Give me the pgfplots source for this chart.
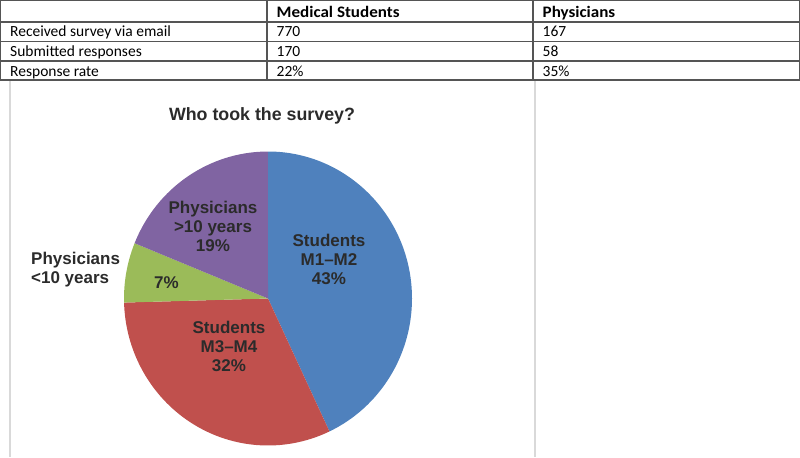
\documentclass[border=0pt]{standalone}
\usepackage{pgfplots}
\pgfplotsset{compat=1.18}
\usepackage{fontspec}
\setmainfont{Liberation Sans}
\newfontfamily\tabfont{Carlito}
\definecolor{pblue}{HTML}{4F81BD}
\definecolor{pred}{HTML}{C0504D}
\definecolor{pgreen}{HTML}{9BBB59}
\definecolor{ppurple}{HTML}{8064A2}
\definecolor{ptext}{HTML}{2B2B2B}
\definecolor{tline}{HTML}{555555}
\definecolor{lgrey}{HTML}{D9D9D9}
\begin{document}
\begin{tikzpicture}
% pie data: counts of respondents
\def\vA{98}\def\vB{72}\def\vC{15}\def\vD{43}
\pgfmathsetmacro\tot{\vA+\vB+\vC+\vD}
\pgfmathsetmacro\aA{90}
\pgfmathsetmacro\aB{\aA-\vA/\tot*360}
\pgfmathsetmacro\aC{\aB-\vB/\tot*360}
\pgfmathsetmacro\aD{\aC-\vC/\tot*360}
\pgfmathsetmacro\aE{\aD-\vD/\tot*360}
\begin{axis}[width=800pt,height=457pt,scale only axis,
  xmin=0,xmax=800,ymin=0,ymax=457,y dir=reverse,hide axis,clip=false]
% light grey cell borders below the table
\draw[lgrey,line width=1.5pt] (10,80) -- (10,457);
\draw[lgrey,line width=1.5pt] (535,80) -- (535,457);
% table
\draw[tline,line width=1.4pt] (0.7,0.7) rectangle (799.3,80);
\draw[tline,line width=1.2pt] (0.7,22) -- (799.3,22);
\draw[tline,line width=1.2pt] (0.7,41.5) -- (799.3,41.5);
\draw[tline,line width=1.2pt] (0.7,61) -- (799.3,61);
\draw[tline,line width=1.2pt] (267,0.7) -- (267,80);
\draw[tline,line width=1.2pt] (533,0.7) -- (533,80);
\begin{scope}[every node/.style={anchor=base west,inner sep=0pt,text=black,font=\tabfont\fontsize{15.5}{18}\selectfont}]
\node[xscale=1.065,font=\tabfont\bfseries\fontsize{16}{18}\selectfont] at (276.5,17) {Medical Students};
\node[xscale=1.065,font=\tabfont\bfseries\fontsize{16}{18}\selectfont] at (542.5,17) {Physicians};
\node at (10,36.8) {Received survey via email};
\node at (276.5,36.8) {770};
\node at (542.5,36.8) {167};
\node at (10,56.5) {Submitted responses};
\node at (276.5,56.5) {170};
\node at (542.5,56.5) {58};
\node at (10,76) {Response rate};
\node at (276.5,76) {22\%};
\node at (542.5,76) {35\%};
\end{scope}
% pie
\fill[pblue] (268,298.5) -- ++(\aA:144pt and 147pt) arc[start angle=\aA,end angle=\aB,x radius=144pt,y radius=147pt] -- cycle;
\fill[pred] (268,298.5) -- ++(\aB:144pt and 147pt) arc[start angle=\aB,end angle=\aC,x radius=144pt,y radius=147pt] -- cycle;
\fill[pgreen] (268,298.5) -- ++(\aC:144pt and 147pt) arc[start angle=\aC,end angle=\aD,x radius=144pt,y radius=147pt] -- cycle;
\fill[ppurple] (268,298.5) -- ++(\aD:144pt and 147pt) arc[start angle=\aD,end angle=\aE,x radius=144pt,y radius=147pt] -- cycle;
\begin{scope}[every node/.style={inner sep=0pt,text=ptext,align=center,font=\bfseries\fontsize{17}{19}\selectfont}]
\node[font=\bfseries\fontsize{17.8}{20}\selectfont] at (262,116) {Who took the survey?};
\node at (329,259) {Students\\M1--M2\\43\%};
\node at (229,346) {Students\\M3--M4\\32\%};
\node at (213,226.5) {Physicians\\>10 years\\19\%};
\node at (166.5,282.3) {7\%};
\node[anchor=west,align=left] at (31,269.5) {Physicians\\<10 years};
\end{scope}
\end{axis}
\end{tikzpicture}
\end{document}
